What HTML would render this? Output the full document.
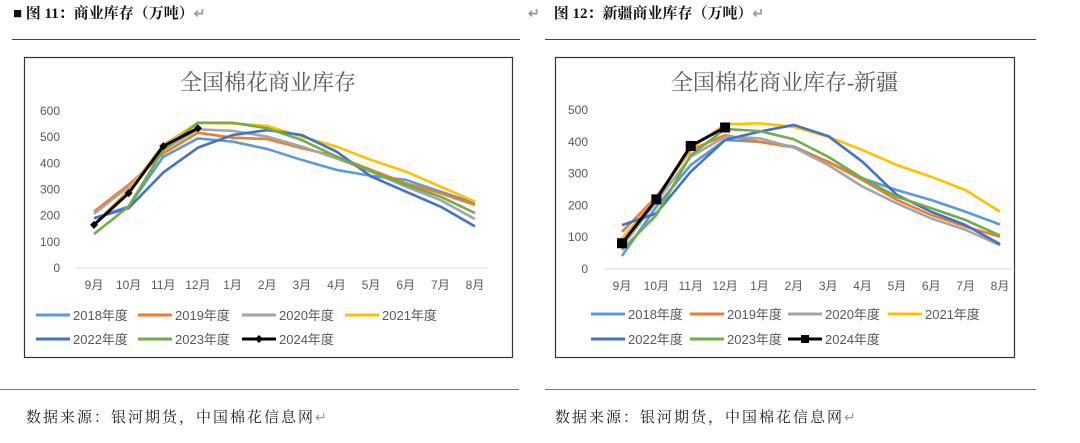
<!DOCTYPE html>
<html><head><meta charset="utf-8"><style>
body{margin:0;width:1080px;height:443px;background:#fff;position:relative;overflow:hidden;font-family:"Liberation Serif","Noto Serif CJK SC",serif}
.abs{position:absolute}
.cap{font-size:15px;font-weight:bold;color:#111;top:2px}
.rule{height:1px;background:#444}
.src{font-size:15px;color:#222;top:406px;letter-spacing:2px;font-family:"Liberation Serif","Noto Serif CJK SC",serif}
.mark{color:#999;font-size:14px;letter-spacing:0}
svg{position:absolute;left:0;top:0}
</style></head><body>
<div class="abs cap" style="left:13px">■ 图 11：商业库存（万吨）<span class="mark">↵</span></div>
<div class="abs cap" style="left:556px"><span class="mark" style="margin-left:-28px;margin-right:14px">↵</span>图 12：新疆商业库存（万吨）<span class="mark">↵</span></div>
<div class="abs rule" style="left:12px;top:39px;width:508px"></div>
<div class="abs rule" style="left:545px;top:39px;width:491px"></div>
<div class="abs rule" style="left:0;top:389px;width:519px;background:#777"></div>
<div class="abs rule" style="left:545px;top:389px;width:491px;background:#777"></div>
<div class="abs src" style="left:26px">数据来源：银河期货，中国棉花信息网<span class="mark">↵</span></div>
<div class="abs src" style="left:555px">数据来源：银河期货，中国棉花信息网<span class="mark">↵</span></div>
<svg id="chart" width="1080" height="443"></svg>
<script>
const months=["9月","10月","11月","12月","1月","2月","3月","4月","5月","6月","7月","8月"];
const seriesNames=["2018年度","2019年度","2020年度","2021年度","2022年度","2023年度","2024年度"];
const colors=["#5b9bd5","#ed7d31","#a5a5a5","#ffc000","#4472c4","#70ad47","#000000"];
const leftTicks=[0,100,200,300,400,500,600];
const rightTicks=[0,100,200,300,400,500];
const left2018=[190,235,425,495,483,455,413,375,352,337,292,248];
const left2019=[216,318,438,517,498,493,458,426,375,324,286,241];
const left2020=[207,311,451,530,524,502,464,419,369,311,260,187];
const left2021=[165,299,470,555,553,543,502,464,413,369,311,254];
const left2022=[190,229,365,460,508,527,508,445,350,292,235,159];
const left2023=[130,235,451,555,555,534,489,426,369,318,273,210];
const left2024=[165,286,466,534];
const right2018=[41,196,327,406,400,385,337,285,248,217,180,140];
const right2019=[117,227,374,421,400,382,337,280,217,170,133,102];
const right2020=[70,212,353,416,411,382,327,259,206,159,123,75];
const right2021=[96,222,379,455,458,447,416,374,327,290,248,180];
const right2022=[138,175,306,406,432,453,418,337,233,180,138,78];
const right2023=[60,170,358,440,434,408,353,285,227,191,154,105];
const right2024=[81,219,387,445];
const NS="http://www.w3.org/2000/svg";
const svg=document.getElementById('chart');
function mk(t,a,p){const e=document.createElementNS(NS,t);for(const k in a)e.setAttribute(k,a[k]);(p||svg).appendChild(e);return e;}
function draw(cfg){
  const g=mk('g',{});
  
  
  const b=mk('rect',{x:cfg.box[0]+.5,y:cfg.box[1]+.5,width:cfg.box[2],height:cfg.box[3],fill:'#fff',stroke:'#333','stroke-width':1.2},g);
  
  
  const t=mk('text',{x:cfg.box[0]+cfg.box[2]/2,y:cfg.box[1]+33,'text-anchor':'middle','font-size':22,fill:'#595959','font-family':'Liberation Serif, Noto Serif CJK SC, serif'},g);
  t.textContent=cfg.title;
  
  
  const max=cfg.ticks[cfg.ticks.length-1];
  const y=v=>cfg.y0-(v/max)*(cfg.y0-cfg.yTop);
  const x=i=>cfg.x0+i*(cfg.x1-cfg.x0)/11;
  const ax=mk('line',{x1:cfg.x0-18,x2:cfg.x1+12,y1:cfg.y0,y2:cfg.y0,stroke:'#d9d9d9'},g);
  
  
  cfg.ticks.forEach(v=>{const e=mk('text',{x:cfg.x0-34,y:y(v)+4,'text-anchor':'end','font-size':12,fill:'#595959','font-family':'Liberation Sans, sans-serif'},g);e.textContent=v;
    
    });
  months.forEach((m,i)=>{const e=mk('text',{x:x(i),y:cfg.y0+21,'text-anchor':'middle','font-size':12,fill:'#595959','font-family':'Liberation Sans, Noto Sans CJK SC, sans-serif'},g);e.textContent=m;
    
    });
  cfg.data.forEach((d,s)=>{
    const p=mk('polyline',{points:d.map((v,i)=>x(i)+','+y(v)).join(' '),fill:'none',stroke:colors[s],'stroke-width':s==6?3:2.6,'stroke-linejoin':'round'},g);
    
    
    if(s==6)d.forEach((v,i)=>{
      const r=cfg.marker=='sq'?mk('rect',{x:x(i)-5,y:y(v)-5,width:10,height:10,fill:'#000'},g):mk('path',{d:`M${x(i)-4} ${y(v)}L${x(i)} ${y(v)-4}L${x(i)+4} ${y(v)}L${x(i)} ${y(v)+4}Z`,fill:'#000'},g);
      
      });
  });
  seriesNames.forEach((n,s)=>{
    const row=s<4?0:1,col=s<4?s:s-4;
    const lx=cfg.leg[col],ly=row?cfg.legY2:cfg.legY1;
    const lg=mk('g',{},g);
    
    
    mk('line',{x1:lx,x2:lx+34,y1:ly,y2:ly,stroke:colors[s],'stroke-width':3},lg);
    if(s==6){ if(cfg.marker=='sq')mk('rect',{x:lx+13,y:ly-4,width:8,height:8,fill:'#000'},lg); else mk('path',{d:`M${lx+13} ${ly}L${lx+17} ${ly-4}L${lx+21} ${ly}L${lx+17} ${ly+4}Z`,fill:'#000'},lg);}
    const tt=mk('text',{x:lx+37,y:ly+5,'font-size':13,fill:'#595959','font-family':'Liberation Sans, Noto Sans CJK SC, sans-serif'},lg);tt.textContent=n;
  });
}
draw({name:'chart-national',title:'全国棉花商业库存',box:[24,57,488,300],x0:94,x1:475,y0:268,yTop:111,ticks:leftTicks,
  data:[left2018,left2019,left2020,left2021,left2022,left2023,left2024],leg:[36,138,242,345],legY1:315,legY2:339,marker:'dia'});
draw({name:'chart-xinjiang',title:'全国棉花商业库存-新疆',box:[555,57,459,300],x0:622,x1:1000,y0:269,yTop:110,ticks:rightTicks,
  data:[right2018,right2019,right2020,right2021,right2022,right2023,right2024],leg:[591,690,788,888],legY1:314,legY2:339,marker:'sq'});
</script>
</body></html>
